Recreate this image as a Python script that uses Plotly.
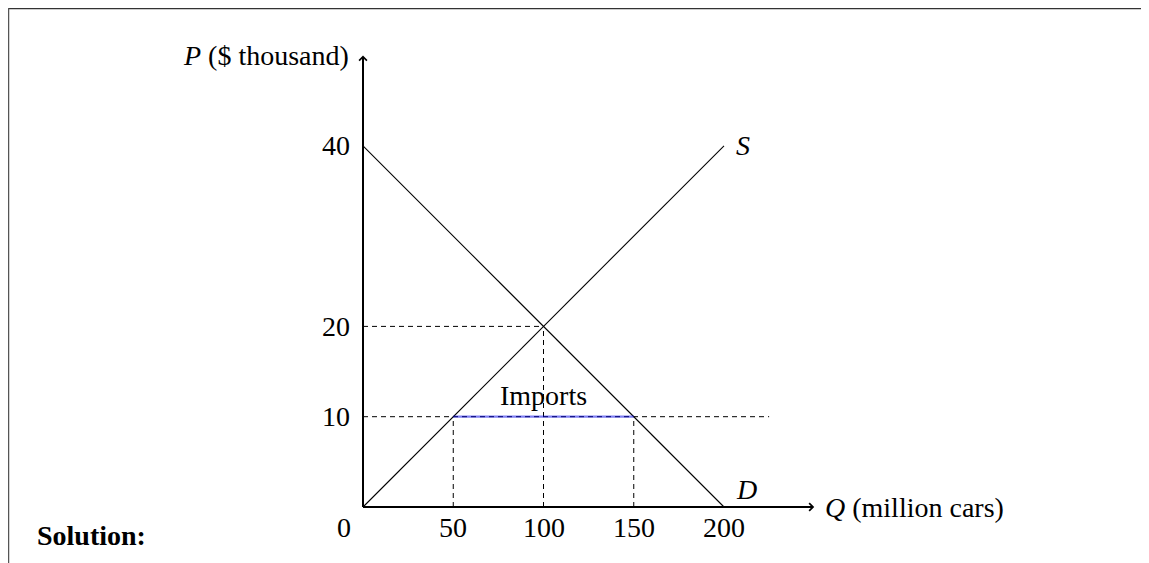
import plotly.graph_objects as go

# Data
supply_q = [0, 200]
supply_p = [0, 40]
demand_q = [0, 200]
demand_p = [40, 0]
world_price = 10
eq_q, eq_p = 100, 20
q_domestic_supply = 50
q_domestic_demand = 150
x_ticks = [0, 50, 100, 150, 200]
y_ticks = [10, 20, 40]
x_axis_max = 250
y_axis_max = 50
world_line_end = 225

FONT = "Liberation Serif"
FS = 28
TXT = dict(family=FONT, size=FS, color="black")

fig = go.Figure()

# Supply and demand
fig.add_trace(go.Scatter(x=supply_q, y=supply_p, mode="lines",
                         line=dict(color="black", width=1.1), hoverinfo="skip"))
fig.add_trace(go.Scatter(x=demand_q, y=demand_p, mode="lines",
                         line=dict(color="black", width=1.1), hoverinfo="skip"))

dash = dict(color="black", width=1, dash="5px,4px")
# dashed guides
fig.add_trace(go.Scatter(x=[0, eq_q], y=[eq_p, eq_p], mode="lines", line=dash, hoverinfo="skip"))
fig.add_trace(go.Scatter(x=[eq_q, eq_q], y=[0, eq_p], mode="lines", line=dash, hoverinfo="skip"))
fig.add_trace(go.Scatter(x=[0, world_line_end], y=[world_price, world_price], mode="lines",
                         line=dash, hoverinfo="skip"))
fig.add_trace(go.Scatter(x=[q_domestic_supply, q_domestic_supply], y=[0, world_price], mode="lines",
                         line=dash, hoverinfo="skip"))
fig.add_trace(go.Scatter(x=[q_domestic_demand, q_domestic_demand], y=[0, world_price], mode="lines",
                         line=dash, hoverinfo="skip"))
# imports segment
fig.add_trace(go.Scatter(x=[q_domestic_supply, q_domestic_demand], y=[world_price, world_price],
                         mode="lines", line=dict(color="rgba(0,0,230,0.5)", width=2.2),
                         hoverinfo="skip"))

# axes
fig.add_trace(go.Scatter(x=[0, x_axis_max - 1], y=[0, 0], mode="lines",
                         line=dict(color="black", width=2), hoverinfo="skip"))
fig.add_trace(go.Scatter(x=[0, 0], y=[0, y_axis_max - 0.2], mode="lines",
                         line=dict(color="black", width=2), hoverinfo="skip"))

ann = []
# arrowheads (open chevrons)
ann.append(dict(x=x_axis_max, y=0, ax=x_axis_max - 6, ay=0, xref="x", yref="y",
                axref="x", ayref="y", showarrow=True, arrowhead=4, arrowsize=1,
                arrowwidth=1.5, arrowcolor="black", text=""))
ann.append(dict(x=0, y=y_axis_max, ax=0, ay=y_axis_max - 1.2, xref="x", yref="y",
                axref="x", ayref="y", showarrow=True, arrowhead=4, arrowsize=1,
                arrowwidth=1.5, arrowcolor="black", text=""))

# tick labels
for t in x_ticks[1:]:
    ann.append(dict(x=t, y=0, xref="x", yref="y", text=str(t), showarrow=False,
                    yanchor="middle", yshift=-20, font=TXT))
ann.append(dict(x=0, y=0, xref="x", yref="y", text="0", showarrow=False,
                xanchor="right", yanchor="middle", xshift=-10, yshift=-20, font=TXT))
for t in y_ticks:
    ann.append(dict(x=0, y=t, xref="x", yref="y", text=str(t), showarrow=False,
                    xanchor="right", yanchor="middle", xshift=-11, font=TXT))

# axis titles
ann.append(dict(x=0, y=y_axis_max, xref="x", yref="y", text="<i>P</i> ($ thousand)",
                showarrow=False, xanchor="right", yanchor="middle", xshift=-12, font=TXT))
ann.append(dict(x=x_axis_max, y=0, xref="x", yref="y", text="<i>Q</i> (million cars)",
                showarrow=False, xanchor="left", yanchor="middle", xshift=9, font=TXT))
# curve labels
ann.append(dict(x=supply_q[1], y=supply_p[1], xref="x", yref="y", text="<i>S</i>",
                showarrow=False, xanchor="left", yanchor="middle", xshift=10, font=TXT))
ann.append(dict(x=demand_q[1], y=demand_p[1], xref="x", yref="y", text="<i>D</i>",
                showarrow=False, xanchor="left", yanchor="middle", xshift=10, yshift=18,
                font=TXT))
ann.append(dict(x=(q_domestic_supply + q_domestic_demand) / 2, y=world_price, xref="x", yref="y",
                text="Imports", showarrow=False, yanchor="middle", yshift=21, font=TXT))
# Solution
ann.append(dict(x=27 / 1149, y=1 - 527 / 563, xref="paper", yref="paper",
                text="<b>Solution:</b>", showarrow=False, xanchor="left", yanchor="middle",
                font=TXT))

shapes = [
    dict(type="line", xref="paper", yref="paper", x0=0, x1=1, y0=1, y1=1,
         line=dict(color="#333333", width=2.5)),
    dict(type="line", xref="paper", yref="paper", x0=0, x1=0, y0=0, y1=1,
         line=dict(color="#555555", width=2.5)),
]

# figure pixel position of the origin and pixels per data unit
x0px, ppx = 355, 1.805
y0px, ppy = 499, 9.03
fig.update_layout(
    width=1149, height=563,
    margin=dict(l=0, r=0, t=0, b=0),
    paper_bgcolor="white", plot_bgcolor="white",
    showlegend=False,
    xaxis=dict(visible=False, range=[-x0px / ppx, (1149 - x0px) / ppx], fixedrange=True),
    yaxis=dict(visible=False, range=[-(563 - y0px) / ppy, y0px / ppy], fixedrange=True),
    annotations=ann, shapes=shapes,
)

fig.write_html("out.html")
